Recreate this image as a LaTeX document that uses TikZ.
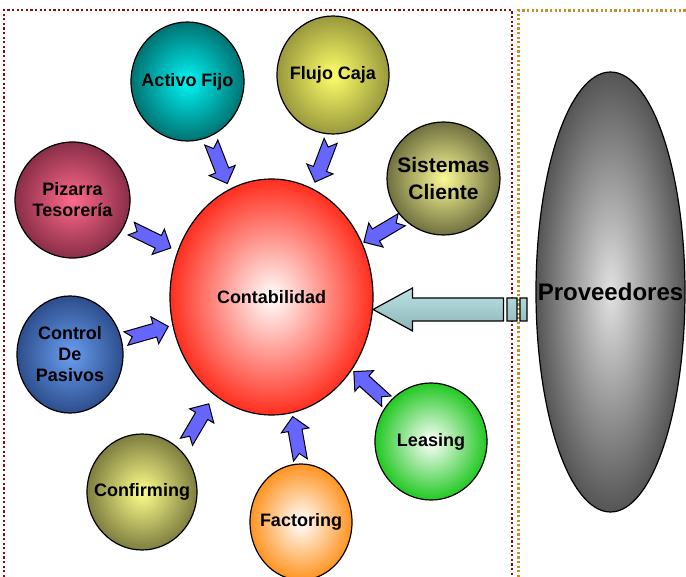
\documentclass[tikz,border=0pt]{standalone}
\usepackage{fontspec}
\setmainfont{Liberation Sans}
\usepackage{xcolor}
\definecolor{FeedBlue}{HTML}{6666FF}
\definecolor{DotRed}{HTML}{8B0A0A}
\definecolor{DotGold}{HTML}{C8902A}
\definecolor{ActivoIn}{HTML}{00F5F5}
\definecolor{ActivoOut}{HTML}{007272}
\definecolor{FlujoIn}{HTML}{FFFF6A}
\definecolor{FlujoOut}{HTML}{99993D}
\definecolor{SistemasIn}{HTML}{FAFA96}
\definecolor{SistemasOut}{HTML}{707040}
\definecolor{PizarraIn}{HTML}{FF6A8C}
\definecolor{PizarraOut}{HTML}{8A2E48}
\definecolor{ControlIn}{HTML}{6A9EF2}
\definecolor{ControlOut}{HTML}{2D4E8C}
\definecolor{ContaOut}{HTML}{FF2E1E}
\definecolor{ConfirmIn}{HTML}{FFFF8C}
\definecolor{ConfirmOut}{HTML}{7E7E40}
\definecolor{FactorOut}{HTML}{FF9422}
\definecolor{LeasingOut}{HTML}{22C822}
\definecolor{ProvIn}{HTML}{E2E2E2}
\definecolor{ProvOut}{HTML}{555555}
\definecolor{ProvArrowTop}{HTML}{BCE2E4}
\definecolor{ProvArrowBot}{HTML}{8CB4B8}
\usepackage{tikz}
\usetikzlibrary{shapes.geometric}
\usetikzlibrary{decorations.markings}

\begin{document}
\begin{tikzpicture}[x=1pt,y=-1pt,
		bubble/.style={ellipse,draw=black,line width=1.2pt,inner xsep=-22pt,inner ysep=0pt,
			align=center,font=\bfseries\fontsize{18}{21}\selectfont},
		feed/.style={decorate,decoration={markings,mark=at position 0.5 with {
			\draw[line width=1pt,fill=FeedBlue] (-22,-7) -- (8,-7) -- (8,-14) -- (22,0)
				-- (8,14) -- (8,7) -- (-22,7) -- (-15.5,0) -- cycle;}}},
		dotframe/.style={line width=2.2pt,dash pattern=on 2.2pt off 2.4pt}
	]
		\useasboundingbox (0,0) rectangle (686,577);
		
		% dotted frames
		\draw[dotframe,DotRed] (4,577) -- (4,10) -- (512,10) -- (512,577);
		\draw[dotframe,DotGold] (518.5,577) -- (518.5,10.5) -- (686,10.5);
		
		% centre
		\node[bubble,minimum width=203pt,minimum height=236pt,inner color=white,outer color=ContaOut] (cont) at (271.5,297) {Contabilidad};
		
		% satellites
		\node[bubble,minimum width=113pt,minimum height=119pt,inner color=ActivoIn,outer color=ActivoOut] (af) at (187.5,81.5) {Activo Fijo};
		\node[bubble,minimum width=112pt,minimum height=118pt,inner color=FlujoIn,outer color=FlujoOut] (fc) at (333,75) {Flujo Caja};
		\node[bubble,minimum width=113pt,minimum height=113pt,inner color=SistemasIn,outer color=SistemasOut,font=\bfseries\fontsize{21}{27}\selectfont] (sc) at (443.5,178.5) {Sistemas\\Cliente};
		\node[bubble,minimum width=115pt,minimum height=116pt,inner color=PizarraIn,outer color=PizarraOut] (pt) at (72.5,200) {Pizarra\\Tesorería};
		\node[bubble,minimum width=106pt,minimum height=117pt,inner color=ControlIn,outer color=ControlOut] (cp) at (70,354.5) {Control\\De\\Pasivos};
		\node[bubble,minimum width=110pt,minimum height=116pt,inner color=ConfirmIn,outer color=ConfirmOut] (cf) at (142,492) {Confirming};
		\node[bubble,minimum width=102pt,minimum height=116pt,inner color=white,outer color=FactorOut] (fa) at (301,522) {Factoring};
		\node[bubble,minimum width=112pt,minimum height=117pt,inner color=white,outer color=LeasingOut] (le) at (431,441.5) {Leasing};
		
		% outside
		\node[bubble,minimum width=149pt,minimum height=440pt,inner color=ProvIn,outer color=ProvOut,font=\bfseries\fontsize{24}{28}\selectfont] (prov) at (610.5,292) {Proveedores};
		
		\foreach \src in {af,fc.south,sc.south west,pt,cp,cf.north east,fa.north,le}{
			\path[feed] (\src) -- (cont);
		}
		
		% striped arrow from Proveedores
		\draw[line width=1.2pt,top color=ProvArrowTop,bottom color=ProvArrowBot]
			(cont.-7) -- ++(39.5,-21.5) -- ++(0,10) -- ++(91,0) -- ++(0,23) -- ++(-91,0) -- ++(0,10) -- cycle
			(cont.-7) ++(134,-11.5) rectangle ++(10,23)
			++(3,-23) rectangle ++(7,23);
		
	\end{tikzpicture}
\end{document}
